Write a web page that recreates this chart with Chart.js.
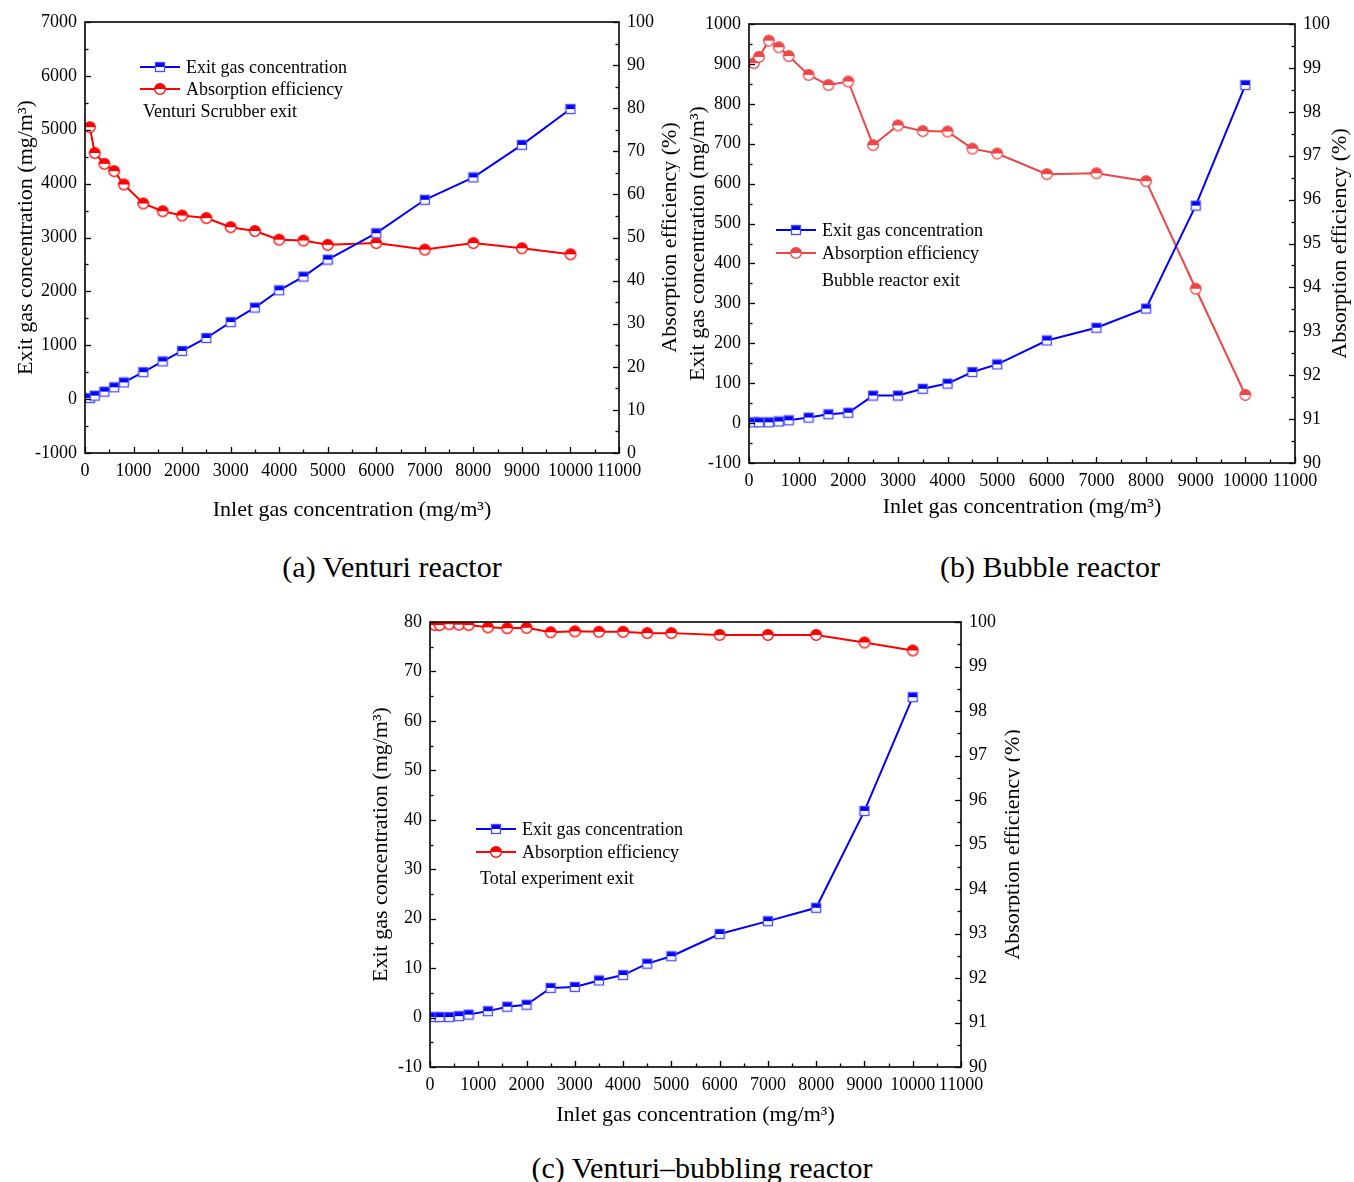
<!DOCTYPE html>
<html>
<head>
<meta charset="utf-8">
<script src="https://cdn.jsdelivr.net/npm/chart.js@4.4.1/dist/chart.umd.min.js"></script>
<style>
body{margin:0;background:#fff;width:1354px;height:1182px;position:relative;overflow:hidden;font-family:'Liberation Serif','Times New Roman',serif;}
canvas{position:absolute;}
.cap{position:absolute;font-size:30px;color:#000;white-space:nowrap;transform:translateX(-50%);line-height:34px;}
</style>
</head>
<body>
<canvas id="chartA" width="680" height="535" style="left:0;top:0"></canvas>
<canvas id="chartB" width="674" height="535" style="left:680px;top:0"></canvas>
<canvas id="chartC" width="660" height="540" style="left:360px;top:595px"></canvas>
<div class="cap" style="left:392px;top:550px">(a) Venturi reactor</div>
<div class="cap" style="left:1050px;top:550px">(b) Bubble reactor</div>
<div class="cap" style="left:702px;top:1151px">(c) Venturi–bubbling reactor</div>
<script>
// inlet concentration (mg/m3), shared by all three panels
var inlet = [100, 200, 400, 600, 800, 1200, 1600, 2000, 2500, 3000, 3500, 4000, 4500, 5000, 6000, 7000, 8000, 9000, 10000];

// (a) venturi scrubber exit
var exitVenturi = [20, 65, 140, 220, 310, 500, 700, 895, 1135, 1430, 1700, 2020, 2275, 2590, 3080, 3700, 4115, 4720, 5385];
var effVenturi = [75.6, 69.6, 67.1, 65.4, 62.3, 57.9, 56.1, 55.1, 54.5, 52.4, 51.5, 49.5, 49.3, 48.3, 48.7, 47.2, 48.7, 47.5, 46.1];

// (b) bubble reactor exit
var exitBubble = [2, 2, 2, 4, 7, 14, 22, 26, 69, 69, 86, 99, 128, 147, 207, 239, 287, 545, 847];
var effBubble = [99.11, 99.25, 99.62, 99.47, 99.27, 98.84, 98.61, 98.69, 97.24, 97.69, 97.56, 97.55, 97.16, 97.05, 96.58, 96.60, 96.42, 93.97, 91.55];

// (c) total experiment exit
var exitTotal = [0.1, 0.1, 0.1, 0.3, 0.6, 1.3, 2.2, 2.6, 6.0, 6.2, 7.5, 8.6, 10.9, 12.4, 16.9, 19.5, 22.2, 41.8, 64.8];
var effTotal = [99.93, 99.93, 99.95, 99.94, 99.93, 99.88, 99.86, 99.87, 99.77, 99.79, 99.78, 99.78, 99.75, 99.75, 99.71, 99.71, 99.71, 99.54, 99.36];

// axis ticks: [min, max, major step, minor step]
var xTicks = [0, 11000, 1000, 500];
var leftTicksA = [-1000, 7000, 1000, 500];
var rightTicksA = [0, 100, 10, 5];
var leftTicksB = [-100, 1000, 100, 50];
var rightTicksB = [90, 100, 1, 0.5];
var leftTicksC = [-10, 80, 10, 5];
var rightTicksC = [90, 100, 1, 0.5];

var seriesNames = ['Exit gas concentration', 'Absorption efficiency'];
var xTitle = 'Inlet gas concentration (mg/m³)';
var yTitle = 'Exit gas concentration (mg/m³)';
var y2Title = 'Absorption efficiency (%)';

var serif = '"Liberation Serif", "Times New Roman", serif';

function squareMarker(fill, edge) {
    var c = document.createElement('canvas');
    c.width = 12; c.height = 12;
    var g = c.getContext('2d');
    g.fillStyle = '#fff';
    g.fillRect(1.5, 1.5, 9, 9);
    g.fillStyle = fill;
    g.fillRect(1.5, 1.5, 9, 4.5);
    g.strokeStyle = edge;
    g.lineWidth = 1.3;
    g.strokeRect(1.5, 1.5, 9, 9);
    return c;
}

function circleMarker(fill) {
    var c = document.createElement('canvas');
    c.width = 14; c.height = 14;
    var g = c.getContext('2d');
    g.fillStyle = '#fff';
    g.beginPath(); g.arc(7, 7, 5.3, 0, Math.PI * 2); g.fill();
    g.fillStyle = fill;
    g.beginPath(); g.arc(7, 7, 5.3, Math.PI, 0); g.fill();
    g.strokeStyle = fill;
    g.lineWidth = 1.3;
    g.beginPath(); g.arc(7, 7, 5.3, 0, Math.PI * 2); g.stroke();
    return c;
}

function drawTicks(ctx, scale, t, side, a) {
    var n = Math.round((t[1] - t[0]) / t[3]);
    var every = Math.round(t[2] / t[3]);
    for (var i = 0; i <= n; i++) {
        var v = t[0] + i * t[3];
        var len = (i % every === 0) ? 6 : 3.5;
        var p = Math.round(scale.getPixelForValue(v)) + 0.5;
        ctx.beginPath();
        if (side === 'bottom') { ctx.moveTo(p, a.bottom); ctx.lineTo(p, a.bottom - len); }
        if (side === 'left') { ctx.moveTo(a.left, p); ctx.lineTo(a.left + len, p); }
        if (side === 'right') { ctx.moveTo(a.right, p); ctx.lineTo(a.right - len, p); }
        ctx.stroke();
    }
}

var decor = {
    id: 'decor',
    afterDraw: function (chart, args, o) {
        var ctx = chart.ctx, a = chart.chartArea;
        ctx.save();
        ctx.strokeStyle = '#000';
        ctx.lineWidth = 1.6;
        ctx.strokeRect(a.left, a.top, a.right - a.left, a.bottom - a.top);
        ctx.lineWidth = 1.3;
        drawTicks(ctx, chart.scales.x, xTicks, 'bottom', a);
        drawTicks(ctx, chart.scales.y, o.left, 'left', a);
        drawTicks(ctx, chart.scales.y1, o.right, 'right', a);

        // axis titles
        ctx.fillStyle = '#000';
        ctx.font = '22px ' + serif;
        ctx.textAlign = 'center';
        ctx.textBaseline = 'middle';
        var cy = (a.top + a.bottom) / 2;
        ctx.fillText(xTitle, (a.left + a.right) / 2, o.xTitleY);
        [[o.yTitleX, yTitle], [o.y2TitleX, y2Title]].forEach(function (t) {
            ctx.save();
            ctx.translate(t[0], cy);
            ctx.rotate(-Math.PI / 2);
            ctx.fillText(t[1], 0, 0);
            ctx.restore();
        });

        // legend inside the plot
        var lg = o.legend;
        ctx.font = '18px ' + serif;
        ctx.textAlign = 'left';
        var rows = [[o.blue, o.sq], [o.red, o.ci]];
        rows.forEach(function (r, i) {
            var y = lg.y + i * lg.gap;
            ctx.strokeStyle = r[0];
            ctx.lineWidth = 2;
            ctx.beginPath(); ctx.moveTo(lg.x, y); ctx.lineTo(lg.x + 40, y); ctx.stroke();
            ctx.drawImage(r[1], lg.x + 20 - r[1].width / 2, y - r[1].height / 2);
            ctx.fillStyle = '#000';
            ctx.fillText(seriesNames[i], lg.x + 46, y + 1);
        });
        ctx.fillText(lg.note, lg.noteX, lg.noteY);
        ctx.restore();
    }
};

function makeChart(id, c) {
    var sq = squareMarker('#0000ff', '#4b4bff');
    var ci = circleMarker(c.red);
    var W = c.W, H = c.H;
    var tickFont = { family: serif, size: 18 };
    function yAxis(pos, t, width) {
        return {
            type: 'linear', position: pos, min: t[0], max: t[1],
            grid: { display: false, drawTicks: false },
            border: { display: false },
            ticks: { stepSize: t[2], font: tickFont, color: '#000', padding: 8,
                callback: function (v) { return String(v); } },
            afterFit: function (s) { s.width = width; }
        };
    }
    return new Chart(document.getElementById(id), {
        type: 'line',
        data: {
            datasets: [{
                label: seriesNames[0],
                data: inlet.map(function (x, i) { return { x: x, y: c.exit[i] }; }),
                yAxisID: 'y',
                borderColor: '#0000ff',
                borderWidth: 2,
                pointStyle: sq,
                pointRadius: 6
            }, {
                label: seriesNames[1],
                data: inlet.map(function (x, i) { return { x: x, y: c.eff[i] }; }),
                yAxisID: 'y1',
                borderColor: c.red,
                borderWidth: 2,
                pointStyle: ci,
                pointRadius: 7
            }]
        },
        options: {
            responsive: false,
            animation: false,
            layout: { padding: { top: c.area.t, left: 0, right: 0, bottom: 0 } },
            plugins: {
                legend: { display: false },
                tooltip: { enabled: false },
                decor: {
                    left: c.left, right: c.right, blue: '#0000ff', red: c.red, sq: sq, ci: ci,
                    xTitleY: c.xTitleY, yTitleX: c.yTitleX, y2TitleX: c.y2TitleX, legend: c.legend
                }
            },
            scales: {
                x: {
                    type: 'linear', min: xTicks[0], max: xTicks[1],
                    grid: { display: false, drawTicks: false },
                    border: { display: false },
                    ticks: { stepSize: xTicks[2], autoSkip: false, maxRotation: 0, minRotation: 0,
                        font: tickFont, color: '#000', padding: 7,
                        callback: function (v) { return String(v); } },
                    afterFit: function (s) { s.height = H - c.area.b; }
                },
                y: yAxis('left', c.left, c.area.l),
                y1: yAxis('right', c.right, W - c.area.r)
            }
        },
        plugins: [decor]
    });
}

makeChart('chartA', {
    W: 680, H: 535, area: { l: 85, t: 22, r: 619, b: 453 },
    exit: exitVenturi, eff: effVenturi, left: leftTicksA, right: rightTicksA, red: '#ff0000',
    xTitleY: 510, yTitleX: 26, y2TitleX: 670,
    legend: { x: 140, y: 67, gap: 22, note: 'Venturi Scrubber exit', noteX: 143, noteY: 112 }
});

makeChart('chartB', {
    W: 674, H: 535, area: { l: 69, t: 24, r: 615, b: 463 },
    exit: exitBubble, eff: effBubble, left: leftTicksB, right: rightTicksB, red: '#f04545',
    xTitleY: 507, yTitleX: 18, y2TitleX: 660,
    legend: { x: 96, y: 230, gap: 23, note: 'Bubble reactor exit', noteX: 142, noteY: 281 }
});

makeChart('chartC', {
    W: 660, H: 540, area: { l: 70, t: 27, r: 601, b: 472 },
    exit: exitTotal, eff: effTotal, left: leftTicksC, right: rightTicksC, red: '#ff0000',
    xTitleY: 520, yTitleX: 21, y2TitleX: 653,
    legend: { x: 116, y: 234, gap: 23, note: 'Total experiment exit', noteX: 120, noteY: 284 }
});
</script>
</body>
</html>
